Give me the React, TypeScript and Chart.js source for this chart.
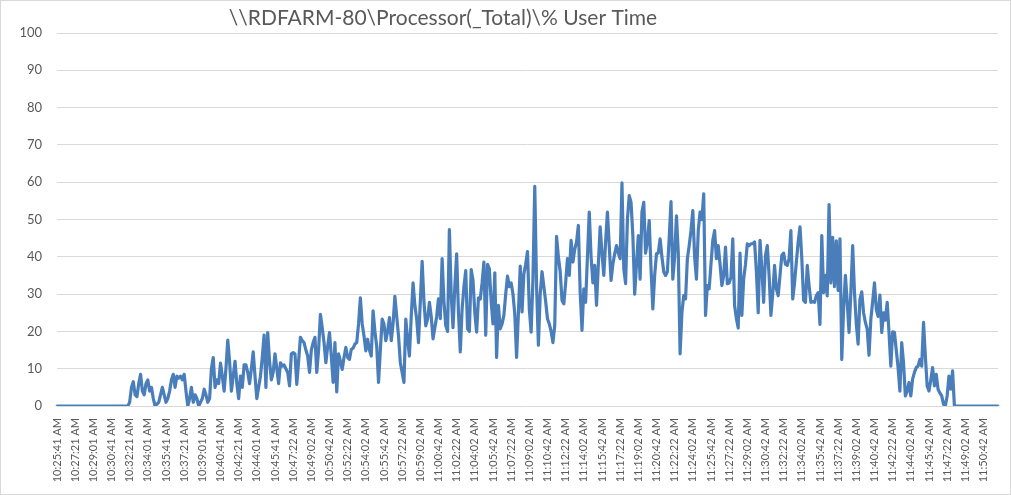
import React, { useEffect, useRef } from "react";
import { Chart, registerables } from "chart.js";

Chart.register(...registerables);

const chartTitle = "\\\\RDFARM-80\\Processor(_Total)\\% User Time";

const tickLabels: string[] = [
  "10:25:41 AM", "10:27:21 AM", "10:29:01 AM", "10:30:41 AM", "10:32:21 AM", "10:34:01 AM",
  "10:35:41 AM", "10:37:21 AM", "10:39:01 AM", "10:40:41 AM", "10:42:21 AM", "10:44:01 AM",
  "10:45:41 AM", "10:47:22 AM", "10:49:02 AM", "10:50:42 AM", "10:52:22 AM", "10:54:02 AM",
  "10:55:42 AM", "10:57:22 AM", "10:59:02 AM", "11:00:42 AM", "11:02:22 AM", "11:04:02 AM",
  "11:05:42 AM", "11:07:22 AM", "11:09:02 AM", "11:10:42 AM", "11:12:22 AM", "11:14:02 AM",
  "11:15:42 AM", "11:17:22 AM", "11:19:02 AM", "11:20:42 AM", "11:22:22 AM", "11:24:02 AM",
  "11:25:42 AM", "11:27:22 AM", "11:29:02 AM", "11:30:42 AM", "11:32:22 AM", "11:34:02 AM",
  "11:35:42 AM", "11:37:22 AM", "11:39:02 AM", "11:40:42 AM", "11:42:22 AM", "11:44:02 AM",
  "11:45:42 AM", "11:47:22 AM", "11:49:02 AM", "11:50:42 AM",
];

// one sample every ~10 s; a tick label every 10 samples
const samplesPerLabel = 10;

const userTime: number[] = [
  0, 0, 0, 0, 0, 0, 0, 0, 0, 0,
  0, 0, 0, 0, 0, 0, 0, 0, 0, 0,
  0, 0, 0, 0, 0, 0, 0, 0, 0, 0,
  0, 0, 0, 0, 0, 0, 0, 0, 0, 0,
  1, 5, 6.5, 3, 2.5, 6, 8.5, 4, 3, 6,
  7, 4, 5, 2, 0, 0.5, 1, 3, 5, 3,
  1, 2, 4, 7, 8.5, 5, 8, 7.5, 8, 7,
  8.5, 4, 0, 2, 5, 1, 3, 2, 0, 1,
  2, 4.5, 3, 1, 2, 10, 13, 5, 7, 6,
  11.5, 8, 4, 10, 17.7, 12, 4, 8, 12, 6,
  2, 8, 5, 11, 11, 9, 6, 10, 14.5, 8,
  2, 5, 8, 13, 19, 5, 19.7, 12, 7, 9,
  14, 10, 6, 11.6, 10.7, 11, 10, 9, 5.4, 14,
  14.3, 14, 5.8, 12, 18.4, 17.5, 17, 15, 13.4, 9,
  15, 17, 18.4, 9, 15, 24.6, 21, 17, 11.6, 16,
  19.7, 13.4, 6.3, 17, 3.8, 14, 12, 9.8, 13, 15.7,
  13, 12.5, 15.2, 15.5, 16.6, 17, 22, 29, 22, 18.8,
  14.8, 17.9, 15, 13.4, 25.5, 20, 16, 6.3, 15, 23.3,
  22, 17.5, 20, 23.7, 17.5, 22, 29.4, 24, 18.8, 11.6,
  9, 6.3, 23.3, 18, 13.4, 24, 33, 27, 23.3, 17,
  28, 38.8, 28, 21.5, 23.3, 27.8, 24, 18, 21, 24,
  28.7, 23.4, 39.5, 28, 21.6, 20, 47.3, 30, 21, 32,
  40.8, 25, 14.5, 26, 32, 36.3, 20.7, 20, 36.6, 33.7,
  25, 19.8, 29, 28.7, 33, 38.6, 19, 38, 36.8, 28,
  22, 35.7, 13, 27, 20.7, 22, 24.3, 30, 34.8, 32,
  33, 30, 24.7, 13, 25, 37.5, 25.2, 35.4, 38, 41.4,
  26, 19.8, 34, 58.9, 32, 16.3, 30, 36, 32, 28,
  23.4, 22, 20, 17, 21.6, 45.5, 40, 36, 28.3, 27.4,
  33, 39.5, 35, 44.4, 38.6, 42, 44, 48.4, 30.5, 20.3,
  31.4, 27.8, 40, 52, 40, 33, 37.7, 27, 38, 48,
  41, 35, 44, 52, 43, 33.7, 38, 40.8, 43, 41,
  39.5, 59.8, 36.8, 32.8, 50, 56.4, 54.6, 45.7, 30, 38,
  45.7, 34, 52, 54.6, 41, 44, 49.7, 36.8, 26, 35,
  40.8, 41, 44.8, 40, 36, 35, 36, 45, 54.8, 34,
  40, 51, 41, 14, 25, 29.6, 28.7, 39.5, 43, 47,
  52.4, 40, 34, 47, 52, 50, 56.9, 24.3, 32.3, 31.4,
  38, 44.4, 47, 39.5, 43, 38, 32.3, 35, 42.6, 32.8,
  33, 34.5, 44.8, 27, 23.4, 20.9, 41, 24.3, 34, 38,
  43.5, 43, 43.5, 43.5, 44, 36, 25, 44.4, 36.8, 27.8,
  40.4, 43, 35, 24.3, 30, 37.7, 31.4, 29.6, 35, 40.4,
  41, 38, 37.7, 39.5, 47, 28.7, 33, 38.6, 44, 48,
  39.5, 28.3, 27.8, 37.7, 32.3, 27.8, 28, 27.8, 29.6, 30.4,
  21.9, 45.7, 30.4, 35, 29.5, 54, 33, 45.2, 32, 44.3,
  31, 44.8, 12.5, 26, 35, 27.8, 19.7, 30.4, 43, 30.4,
  22, 16.6, 28.6, 30.6, 25, 22.4, 20.6, 13.6, 23.3, 28,
  33, 26, 24, 29.7, 19.7, 25, 23, 27.8, 19.7, 10.7,
  19.9, 19.7, 15, 10.3, 4, 17, 11.6, 2.7, 4, 6.3,
  2.7, 7.2, 9, 10.3, 10.7, 12.5, 10.7, 22.4, 13.4, 5.4,
  4, 7, 10.3, 5.4, 8.5, 4.5, 3.5, 2.7, 0.5, 0,
  2.7, 8, 4.5, 9.4, 0, 0, 0, 0, 0, 0,
  0, 0, 0, 0, 0, 0, 0, 0, 0, 0,
  0, 0, 0, 0, 0, 0, 0, 0, 0,
];

const yMin = 0;
const yMax = 100;
const yStep = 10;

const TEXT = "#595959";
const GRID = "#d9d9d9";
const LINE = "#4A7EBB";
const FONT = "Lato, 'Liberation Sans', sans-serif";

export default function App() {
  const canvasRef = useRef<HTMLCanvasElement | null>(null);

  useEffect(() => {
    document.body.style.margin = "0";
    const canvas = canvasRef.current;
    if (!canvas) return;

    const labels = userTime.map((_, i) =>
      i % samplesPerLabel === 0 ? tickLabels[i / samplesPerLabel] ?? "" : ""
    );

    const titlePlugin = {
      id: "excelTitle",
      afterDraw(chart: any) {
        const { ctx } = chart;
        ctx.save();
        ctx.font = `21px ${FONT}`;
        ctx.fillStyle = TEXT;
        ctx.textAlign = "center";
        ctx.textBaseline = "middle";
        ctx.fillText(chartTitle, 442, 17);
        ctx.restore();
      },
    };

    const chart = new Chart(canvas, {
      type: "line",
      data: {
        labels,
        datasets: [
          {
            data: userTime,
            borderColor: LINE,
            borderWidth: 3.2,
            pointRadius: 0,
            tension: 0,
            fill: false,
            borderJoinStyle: "round",
            borderCapStyle: "round",
          },
        ],
      },
      options: {
        animation: false,
        responsive: true,
        maintainAspectRatio: false,
        layout: { padding: { top: 32, right: 12, left: 0, bottom: 0 } },
        plugins: {
          legend: { display: false },
          title: { display: false },
          tooltip: { enabled: false },
        },
        scales: {
          x: {
            type: "category",
            offset: false,
            grid: { display: false },
            border: { display: false },
            ticks: {
              autoSkip: false,
              maxRotation: 90,
              minRotation: 90,
              padding: 4,
              color: TEXT,
              font: { family: FONT, size: 11 },
            },
            afterFit(scale: any) {
              scale.height = 88;
              scale.paddingRight = 0;
              scale.paddingLeft = 0;
            },
          },
          y: {
            min: yMin,
            max: yMax,
            grid: { color: GRID, lineWidth: 1, drawTicks: false },
            border: { display: false },
            ticks: {
              stepSize: yStep,
              padding: 15,
              color: TEXT,
              font: { family: FONT, size: 13 },
            },
            afterFit(scale: any) {
              scale.width = 56;
            },
          },
        },
      },
      plugins: [titlePlugin],
    });

    return () => chart.destroy();
  }, []);

  return (
    <div
      style={{
        width: 1011,
        height: 495,
        boxSizing: "border-box",
        border: "1px solid #d9d9d9",
        position: "relative",
        background: "#fff",
      }}
    >
      <canvas ref={canvasRef} />
    </div>
  );
}
